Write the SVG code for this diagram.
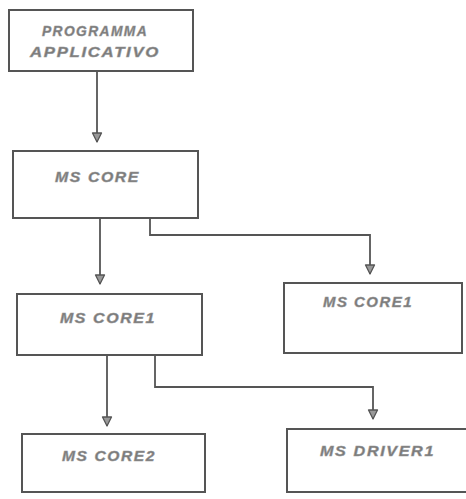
<svg xmlns="http://www.w3.org/2000/svg" width="466" height="499" viewBox="0 0 466 499">
<defs>
<marker id="ah" markerWidth="12" markerHeight="12" refX="11" refY="6" orient="auto" markerUnits="userSpaceOnUse" viewBox="0 0 12 12">
<path d="M2,1.5 L11,6 L2,10.5 Z" fill="#999" stroke="#555" stroke-width="1.3" stroke-linejoin="round"/>
</marker>
<style>
.box{fill:#fff;stroke:#555;stroke-width:2}
.lbl{font-family:"Liberation Sans",Arial,sans-serif;font-weight:bold;font-style:italic;font-size:15px;letter-spacing:1.5px;fill:#7a7a7a;stroke:#999;stroke-width:0.5}
.conn{fill:none;stroke:#555;stroke-width:1.8}
</style>
</defs>
<rect width="466" height="499" fill="#fff"/>
<g id="connectors">
<path class="conn" d="M97,72 L97,142" marker-end="url(#ah)"/>
<path class="conn" d="M100,218 L100,284" marker-end="url(#ah)"/>
<path class="conn" d="M150,218 L150,235 L370,235 L370,274" marker-end="url(#ah)"/>
<path class="conn" d="M107,355 L107,426" marker-end="url(#ah)"/>
<path class="conn" d="M155,355 L155,387 L373,387 L373,419" marker-end="url(#ah)"/>
</g>
<g id="programma">
<rect class="box" x="9" y="10" width="184" height="61"/>
<text class="lbl" x="42" y="36" textLength="106" lengthAdjust="spacingAndGlyphs">PROGRAMMA</text>
<text class="lbl" x="30" y="57" textLength="130" lengthAdjust="spacingAndGlyphs">APPLICATIVO</text>
</g>
<g id="mscore">
<rect class="box" x="13" y="151" width="185" height="67"/>
<text class="lbl" x="55" y="182" textLength="85" lengthAdjust="spacingAndGlyphs">MS CORE</text>
</g>
<g id="mscore1a">
<rect class="box" x="17" y="294" width="185" height="61"/>
<text class="lbl" x="60" y="323" textLength="96" lengthAdjust="spacingAndGlyphs">MS CORE1</text>
</g>
<g id="mscore1b">
<rect class="box" x="284" y="283" width="178" height="70"/>
<text class="lbl" x="323" y="307" textLength="90" lengthAdjust="spacingAndGlyphs">MS CORE1</text>
</g>
<g id="mscore2">
<rect class="box" x="22" y="434" width="183" height="58"/>
<text class="lbl" x="62" y="461" textLength="94" lengthAdjust="spacingAndGlyphs">MS CORE2</text>
</g>
<g id="msdriver1">
<rect class="box" x="287" y="429" width="180" height="63"/>
<text class="lbl" x="320" y="456" textLength="115" lengthAdjust="spacingAndGlyphs">MS DRIVER1</text>
</g>
</svg>
